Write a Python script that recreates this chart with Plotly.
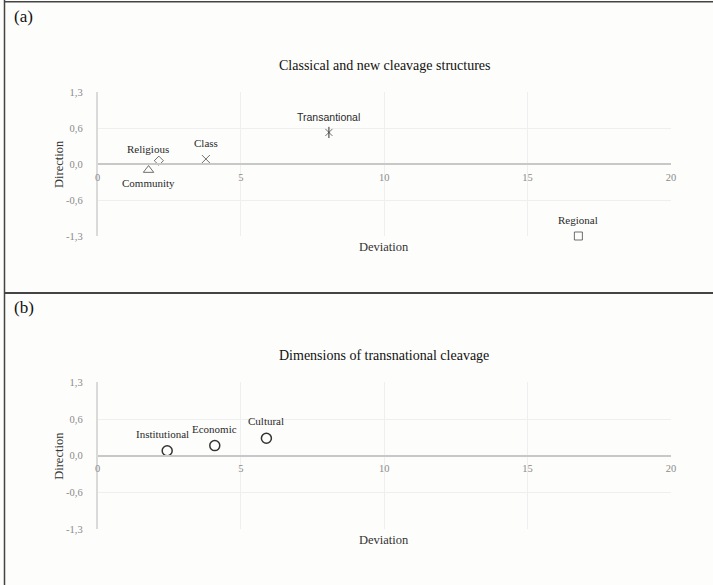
import plotly.graph_objects as go

W, H = 713, 585

# Panel (a) data
a_names = ["Community", "Religious", "Class", "Transantional", "Regional"]
a_dev = [1.78, 2.14, 3.78, 8.07, 16.77]
a_dir = [-0.11, 0.06, 0.09, 0.57, -1.3]

# Panel (b) data
b_names = ["Institutional", "Economic", "Cultural"]
b_dev = [2.43, 4.09, 5.89]
b_dir = [0.09, 0.18, 0.31]

y_tickvals = [-1.3, -0.65, 0, 0.65, 1.3]
y_ticktext = ["-1,3", "-0,6", "0,0", "0,6", "1,3"]
x_tickvals = [0, 5, 10, 15, 20]
x_ticktext = ["0", "5", "10", "15", "20"]

titles = ["Classical and new cleavage structures", "Dimensions of transnational cleavage"]
panel_tags = ["(a)", "(b)"]

# styles
a_symbols = ["triangle-up-open", "diamond-open", "x-thin-open", "x-thin-open", "square-open"]
a_sizes = [9, 7, 8, 7, 8]
a_label_shift = [(0, -13), (-11, 12), (0, 16), (0, 15.5), (0, 16)]
b_label_shift = [(-5, 17), (0, 17), (0, 17.5)]

SERIF = "Liberation Serif, Times New Roman, serif"
SANS = "Liberation Sans, Arial, sans-serif"
MARK = "#333333"

xdom = [97.5 / W, 671 / W]
ydom_a = [1 - 236 / H, 1 - 92 / H]
ydom_b = [1 - 529.3 / H, 1 - 382.3 / H]

fig = go.Figure()

fig.add_trace(go.Scatter(
    x=a_dev, y=a_dir, mode="markers",
    marker=dict(symbol=a_symbols, size=a_sizes, color=MARK, line=dict(color=MARK, width=1)),
    xaxis="x", yaxis="y", showlegend=False, cliponaxis=False, hoverinfo="skip",
))
# vertical stroke of the asterisk marker for Transantional
idx = a_names.index("Transantional")
fig.add_trace(go.Scatter(
    x=[a_dev[idx]], y=[a_dir[idx]], mode="markers",
    marker=dict(symbol="line-ns-open", size=8, color=MARK, line=dict(color=MARK, width=1)),
    xaxis="x", yaxis="y", showlegend=False, cliponaxis=False, hoverinfo="skip",
))
fig.add_trace(go.Scatter(
    x=b_dev, y=b_dir, mode="markers",
    marker=dict(symbol="circle-open", size=10, color=MARK, line=dict(color=MARK, width=1.5)),
    xaxis="x2", yaxis="y2", showlegend=False, cliponaxis=False, hoverinfo="skip",
))

def xaxis(dom_y):
    return dict(
        domain=xdom, range=[0, 20], tickvals=x_tickvals, ticktext=x_ticktext,
        showgrid=True, gridcolor="#efefef", gridwidth=1,
        showline=True, linecolor="#c8c8c8", linewidth=2,
        zeroline=False, ticks="", anchor="free", position=(dom_y[0] + dom_y[1]) / 2,
        tickfont=dict(family=SERIF, size=10.5, color="#8a8a8a"), fixedrange=True,
        automargin=False, ticklabelstandoff=3,
    )

def yaxis(dom_y, anchor):
    return dict(
        domain=dom_y, range=[-1.3, 1.3], tickvals=y_tickvals, ticktext=y_ticktext,
        showgrid=True, gridcolor="#efefef", gridwidth=1,
        showline=True, linecolor="#dadada", linewidth=1.5,
        zeroline=False, ticks="", anchor=anchor,
        tickfont=dict(family=SERIF, size=10.5, color="#8a8a8a"), fixedrange=True,
        automargin=False, ticklabelstandoff=11,
    )

annotations = []
for name, xv, yv, (dx, dy) in zip(a_names, a_dev, a_dir, a_label_shift):
    fam = SANS if name == "Transantional" else SERIF
    annotations.append(dict(
        text=name, x=xv, y=yv, xref="x", yref="y", xshift=dx, yshift=dy,
        showarrow=False, xanchor="center", yanchor="middle",
        font=dict(family=fam, size=11 if fam == SERIF else 10.5, color="#2a2a2a"),
    ))
for name, xv, yv, (dx, dy) in zip(b_names, b_dev, b_dir, b_label_shift):
    annotations.append(dict(
        text=name, x=xv, y=yv, xref="x2", yref="y2", xshift=dx, yshift=dy,
        showarrow=False, xanchor="center", yanchor="middle",
        font=dict(family=SERIF, size=11, color="#2a2a2a"),
    ))

for i, dom in enumerate([ydom_a, ydom_b]):
    bot_px = 236 if i == 0 else 529.3
    base = 0 if i == 0 else 291
    annotations.append(dict(
        text=titles[i], x=384 / W, y=1 - (65 + base) / H, xref="paper", yref="paper",
        showarrow=False, xanchor="center", yanchor="middle",
        font=dict(family=SERIF, size=14, color="#111111"),
    ))
    annotations.append(dict(
        text="Deviation", x=384 / W, y=1 - (bot_px + 11) / H, xref="paper", yref="paper",
        showarrow=False, xanchor="center", yanchor="middle",
        font=dict(family=SERIF, size=12.5, color="#333333"),
    ))
    annotations.append(dict(
        text="Direction", x=59 / W, y=(dom[0] + dom[1]) / 2, xref="paper", yref="paper",
        showarrow=False, xanchor="center", yanchor="middle", textangle=-90,
        font=dict(family=SERIF, size=12.5, color="#333333"),
    ))
    annotations.append(dict(
        text=panel_tags[i], x=12 / W, y=1 - (16 + base) / H, xref="paper", yref="paper",
        showarrow=False, xanchor="left", yanchor="middle",
        font=dict(family=SERIF, size=17, color="#111111"),
    ))

shapes = [
    dict(type="line", xref="paper", yref="paper", x0=4.5 / W, x1=4.5 / W, y0=0, y1=1,
         line=dict(color="#444444", width=1.5)),
    dict(type="line", xref="paper", yref="paper", x0=4.5 / W, x1=1, y0=1 - 1.7 / H, y1=1 - 1.7 / H,
         line=dict(color="#444444", width=1.5)),
    dict(type="line", xref="paper", yref="paper", x0=4.5 / W, x1=1, y0=1 - 293 / H, y1=1 - 293 / H,
         line=dict(color="#444444", width=2)),
]

fig.update_layout(
    width=W, height=H, margin=dict(l=0, r=0, t=0, b=0, pad=0, autoexpand=False),
    paper_bgcolor="#fdfdfb", plot_bgcolor="#fdfdfb",
    xaxis=xaxis(ydom_a), yaxis=yaxis(ydom_a, "x"),
    xaxis2=xaxis(ydom_b), yaxis2=yaxis(ydom_b, "x2"),
    annotations=annotations, shapes=shapes, showlegend=False,
)

fig.write_html(
    "out.html",
    config={"displayModeBar": False},
    post_script="document.body.style.margin='0';document.body.style.overflow='hidden';",
)
